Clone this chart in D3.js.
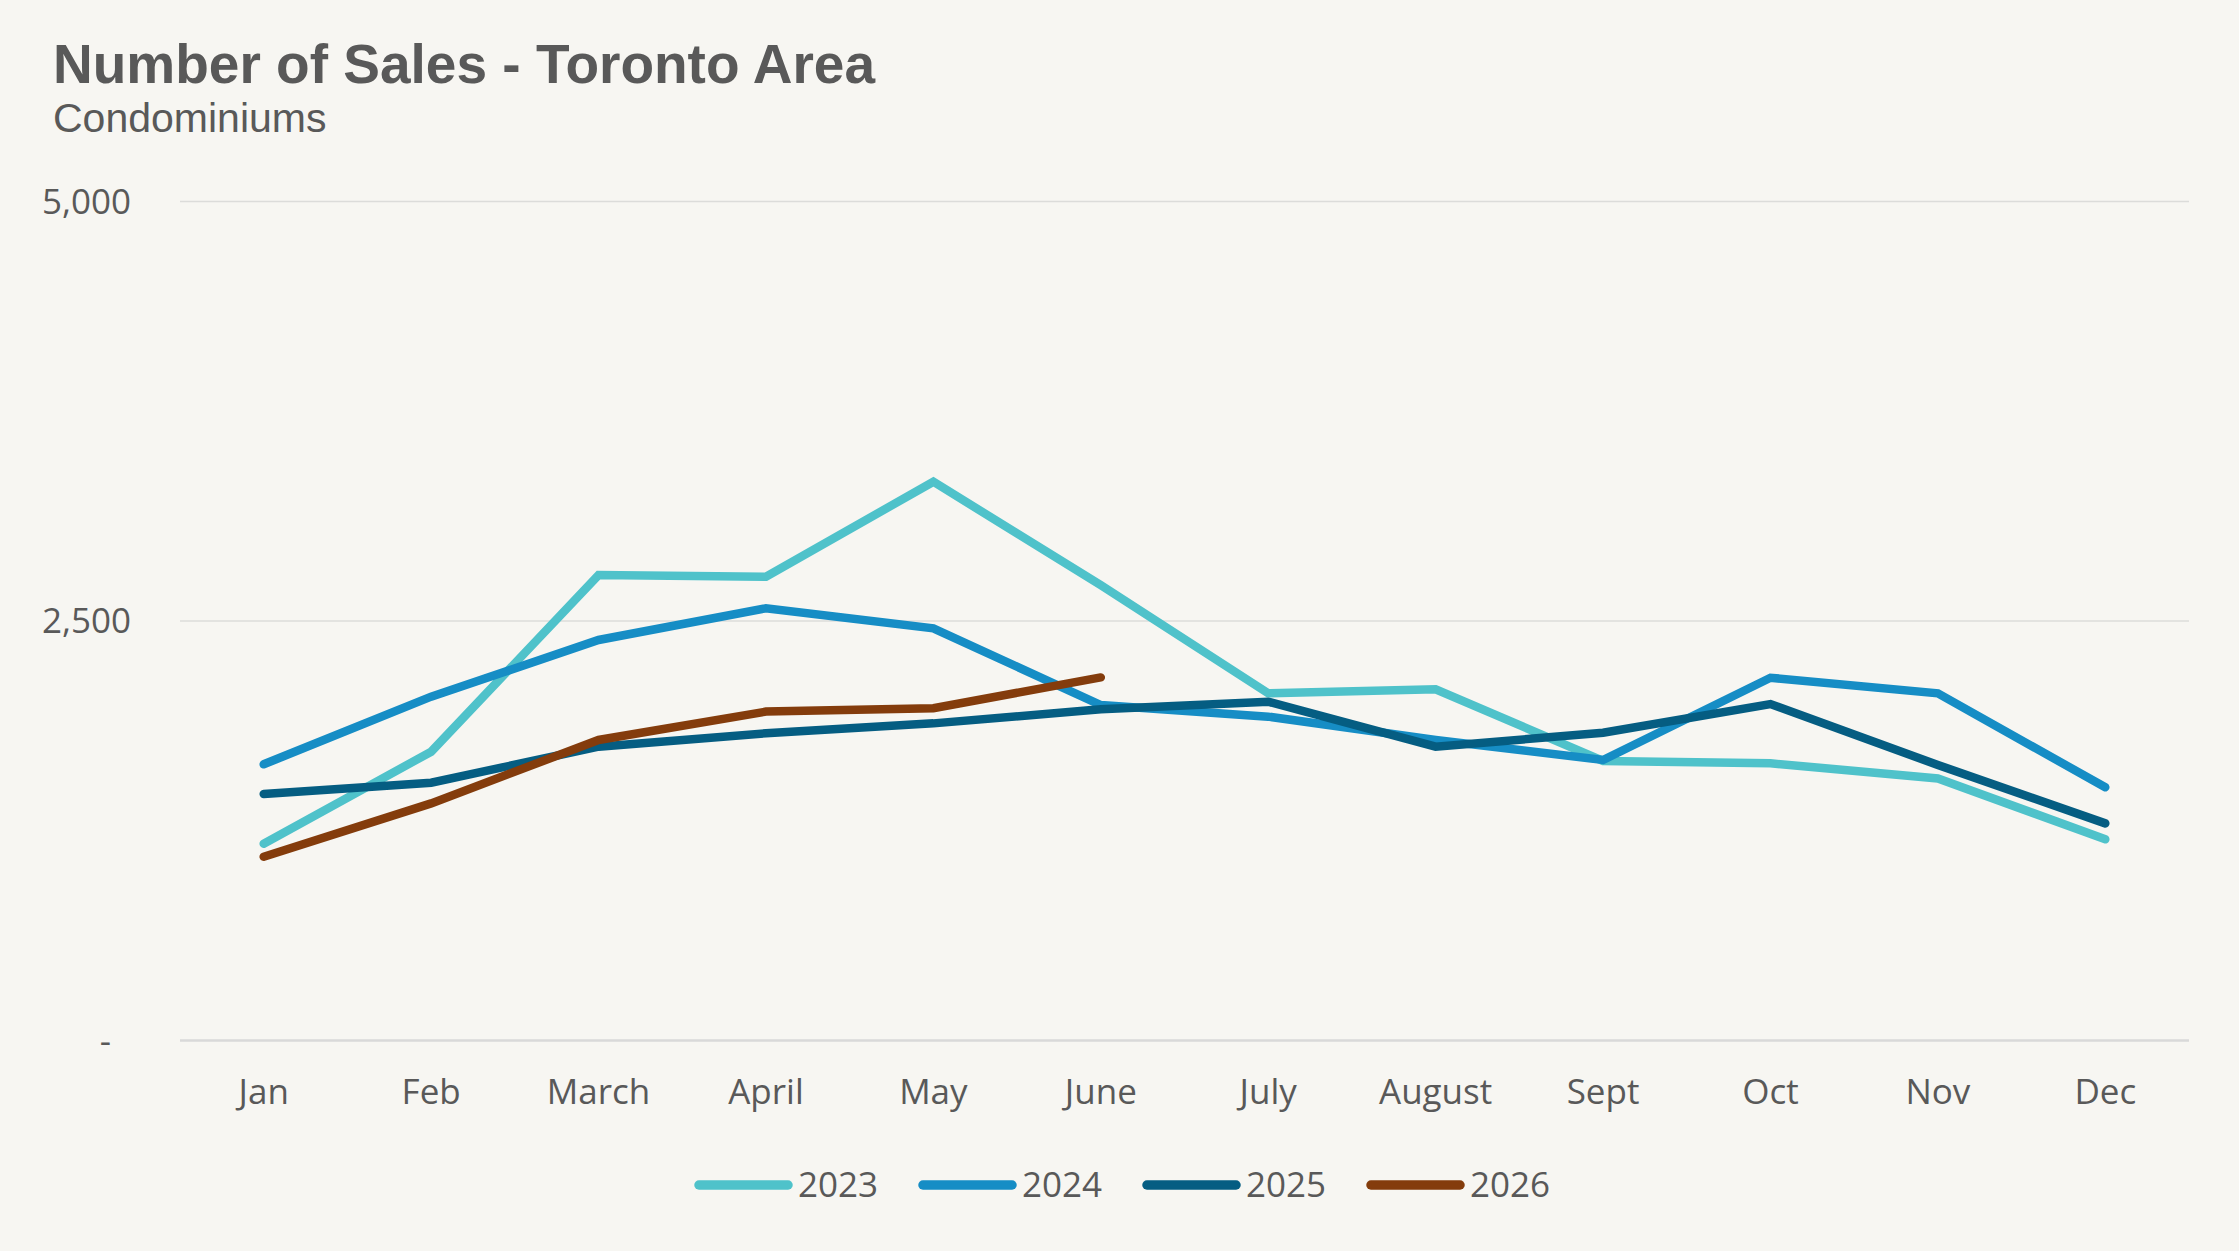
<!DOCTYPE html>
<html>
<head>
<meta charset="utf-8">
<script src="https://cdn.jsdelivr.net/npm/d3@7"></script>
<style>
  html, body { margin: 0; padding: 0; background: #F7F6F2; }
  .tick text { font-family: "Open Sans", sans-serif; fill: #595959; }
</style>
</head>
<body>
<div class="visualizate"></div>
<script>
'use strict'

let width = 2239;
let height = 1251;

const months = ['Jan', 'Feb', 'March', 'April', 'May', 'June', 'July', 'August', 'Sept', 'Oct', 'Nov', 'Dec'];
const years = ['2023', '2024', '2025', '2026'];
const yTicks = [0, 2500, 5000];

/* number of condo sales */
const sales2023 = [1170, 1718, 2771, 2761, 3327, 2711, 2066, 2090, 1663, 1649, 1559, 1196];
const sales2024 = [1643, 2046, 2384, 2573, 2453, 1996, 1927, 1788, 1669, 2159, 2066, 1506];
const sales2025 = [1466, 1533, 1748, 1828, 1887, 1971, 2016, 1748, 1831, 2002, 1639, 1291];
const sales2026 = [1092, 1410, 1788, 1957, 1977, 2161];

const colors = ['#4FC2CA', '#168DC5', '#055D82', '#843C0C'];

function drawChart () {
    const series = [sales2023, sales2024, sales2025, sales2026];

    const left = 180, right = 2189, top = 201, bottom = 1040;

    const xScale = d3.scaleBand()
                     .domain(months)
                     .range([left, right])
                     .padding(0);
    const xCenter = m => xScale(m) + xScale.bandwidth() / 2;

    const yScale = d3.scaleLinear()
                     .domain([0, 5000])
                     .range([bottom, top]);

    const svg = d3.select('.visualizate')
                  .append('svg')
                  .attr('width', width)
                  .attr('height', height);

    svg.append('rect')
       .attr('width', width)
       .attr('height', height)
       .attr('fill', '#F7F6F2');

    /* titles */
    svg.append('text')
       .attr('x', 53)
       .attr('y', 83)
       .style('font-family', '"Liberation Sans", Arial, sans-serif')
       .style('font-weight', 'bold')
       .style('font-size', '55px')
       .attr('fill', '#595959')
       .text('Number of Sales - Toronto Area');

    svg.append('text')
       .attr('x', 53)
       .attr('y', 132)
       .style('font-family', '"Liberation Sans", Arial, sans-serif')
       .style('font-size', '41px')
       .attr('fill', '#595959')
       .text('Condominiums');

    /* Y AXIS with gridlines */
    const yAxis = d3.axisLeft(yScale)
                    .tickValues(yTicks)
                    .tickSize(-(right - left))
                    .tickPadding(49)
                    .tickFormat(d => d === 0 ? '-' : d3.format(',')(d));

    const gy = svg.append('g')
                  .attr('transform', 'translate(' + left + ',0)')
                  .call(yAxis);
    gy.select('.domain').remove();
    gy.selectAll('.tick line')
      .attr('stroke', '#DCDCDA')
      .attr('stroke-width', 1.3);
    gy.selectAll('.tick text')
      .style('font-size', '35px')
      .attr('dy', '0.35em');
    gy.selectAll('.tick')
      .filter(d => d === 0)
      .select('text')
      .attr('dx', -20);
    gy.selectAll('.tick')
      .filter(d => d === 0)
      .select('line')
      .attr('stroke', '#D9D9D9')
      .attr('stroke-width', 2.7);

    /* X AXIS */
    const xAxis = d3.axisBottom(xScale)
                    .tickSize(0)
                    .tickPadding(39);
    const gx = svg.append('g')
                  .attr('transform', 'translate(0,' + bottom + ')')
                  .call(xAxis);
    gx.select('.domain').remove();
    gx.selectAll('.tick text')
      .style('font-size', '35px');

    /* LINES */
    const line = d3.line()
                   .x((d, i) => xCenter(months[i]))
                   .y(d => yScale(d));

    svg.selectAll('path.series')
       .data(series)
       .enter()
       .append('path')
       .attr('class', 'series')
       .attr('d', d => line(d))
       .attr('fill', 'none')
       .attr('stroke', (d, i) => colors[i])
       .attr('stroke-width', 8.5)
       .attr('stroke-linecap', 'round')
       .attr('stroke-linejoin', 'miter');

    /* LEGEND */
    const legend = svg.append('g')
                      .attr('transform', 'translate(695,1185)');
    const item = legend.selectAll('g')
                       .data(years)
                       .enter()
                       .append('g')
                       .attr('transform', (d, i) => 'translate(' + (i * 224) + ',0)');
    item.append('line')
        .attr('x1', 4)
        .attr('x2', 93)
        .attr('stroke', (d, i) => colors[i])
        .attr('stroke-width', 9.5)
        .attr('stroke-linecap', 'round');
    item.append('text')
        .attr('x', 103)
        .attr('dy', '0.35em')
        .style('font-family', '"Open Sans", sans-serif')
        .style('font-size', '35px')
        .attr('fill', '#595959')
        .text(d => d);
}

document.addEventListener('DOMContentLoaded', function(e){
    drawChart();
});
</script>
</body>
</html>
